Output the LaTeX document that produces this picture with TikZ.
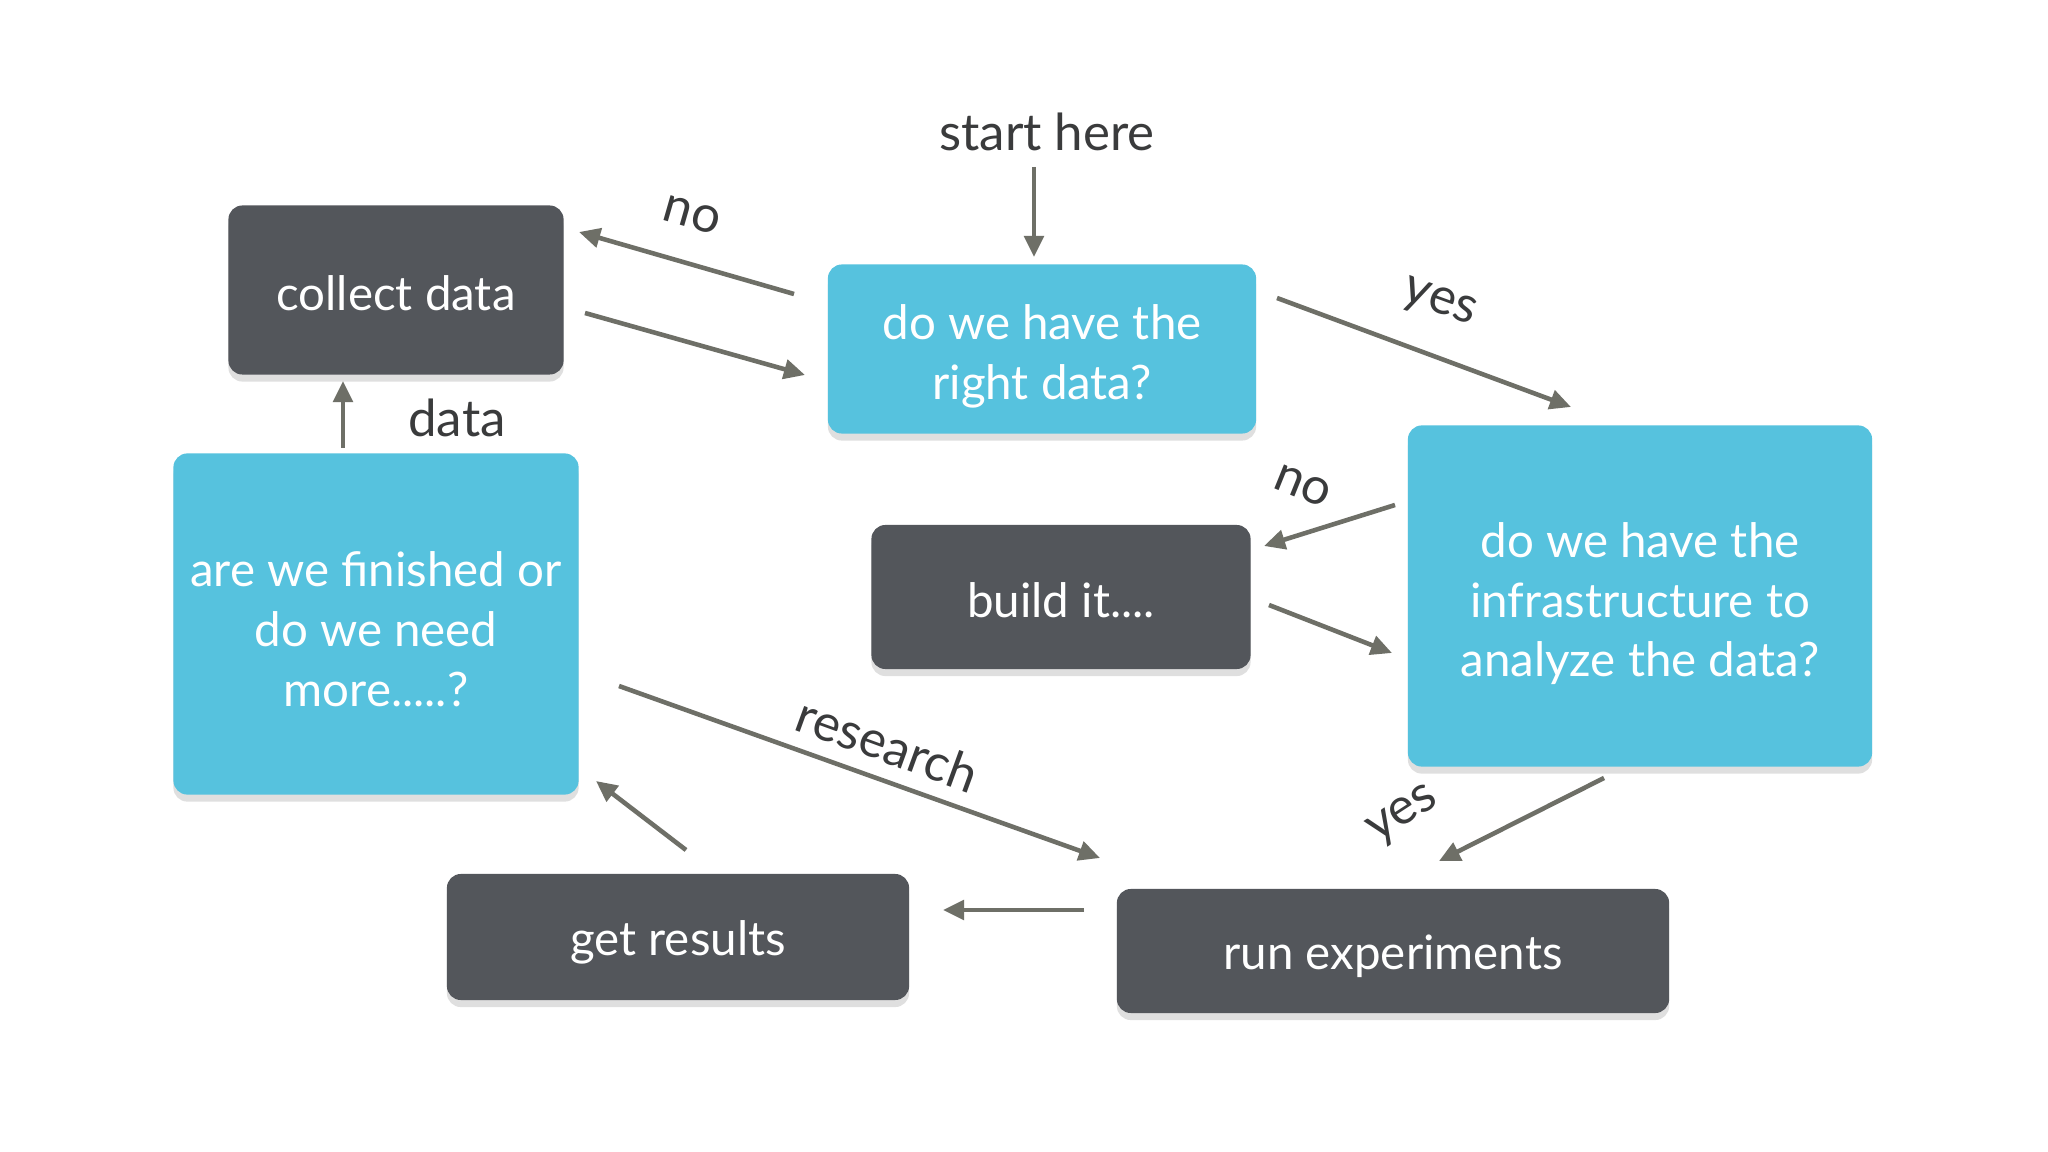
\documentclass[tikz,border=0pt]{standalone}
\usepackage{fontspec}
\setmainfont{Lato}
\usepackage{tikz}
\usetikzlibrary{
  positioning,
  calc,
  arrows.meta,
  shadows
}
\definecolor{boxdark}{HTML}{53565B}
\definecolor{boxblue}{HTML}{56C2DE}
\definecolor{arrowgray}{HTML}{6E6F67}
\definecolor{labelgray}{HTML}{3A3B3C}
\newcommand{\qstrut}{\rule{0pt}{14.3pt}}

\begin{document}
\begin{tikzpicture}[
      x=0.01cm, y=-0.01cm,
      darkbox/.style={rectangle, rounded corners=4pt, fill=boxdark, text=white, align=center,
        font=\fontsize{13.5}{17}\selectfont,
        execute at begin node={\rule{0pt}{13pt}}, execute at end node={\rule[-1.5pt]{0pt}{1.5pt}},
        drop shadow={shadow xshift=0pt, shadow yshift=-2pt, opacity=0.25}},
      bluebox/.style={darkbox, fill=boxblue},
      lbl/.style={text=labelgray, font=\fontsize{14.5}{17}\selectfont},
      arrow/.style={-{Triangle[length=6pt, width=5.5pt]}, draw=arrowgray, fill=arrowgray, line width=1.3pt}
    ]
      \useasboundingbox[fill=white] (0,0) rectangle (2048,1152);

      % Nodes
      \node[darkbox, minimum width=3.35cm, minimum height=1.69cm] (collect) at (396,290) {collect data};
      \node[bluebox, minimum width=4.28cm, minimum height=1.69cm] (rightdata) at (1042,349) {\qstrut do we have the\\right data?};
      \node[bluebox, minimum width=4.64cm, minimum height=3.41cm] (infra) at (1640,596) {\qstrut do we have the\\infrastructure to\\analyze the data?};
      \node[darkbox, minimum width=3.79cm, minimum height=1.44cm] (build) at (1061,597) {build it....};
      \node[darkbox, minimum width=5.52cm, minimum height=1.24cm] (run) at (1393,951) {run experiments};
      \node[darkbox, minimum width=4.62cm, minimum height=1.26cm] (results) at (678,937) {get results};
      \node[bluebox, minimum width=4.05cm, minimum height=3.41cm] (finished) at (376,624) {\qstrut are we finished or\\do we need\\more.....?};

      % Labels
      \node[lbl] (start) at (1047,132) {start here};
      \node[lbl, rotate=-16] (nolbl) at (692,215) {no};
      \node[lbl, rotate=-20] (yeslbl) at (1439,304) {yes};
      \node[lbl] (datalbl) at (457,418) {data};
      \node[lbl, rotate=-22] (nolbltwo) at (1303,486) {no};
      \node[lbl, rotate=33] (yeslbltwo) at (1404,816) {yes};
      \node[lbl, rotate=-20] (reslbl) at (888,744) {research};

      % Arrow ends
      \coordinate (startout) at (1034,167);
      \coordinate (rdin) at (1034,257);
      \coordinate (rdno) at (794,294);
      \coordinate (colin) at (579,232);
      \coordinate (colout) at (585,313);
      \coordinate (rdinl) at (805,375);
      \coordinate (rdyes) at (1277,298);
      \coordinate (infrain) at (1571,407);
      \coordinate (infrano) at (1395,505);
      \coordinate (buildin) at (1264,546);
      \coordinate (buildout) at (1269,605);
      \coordinate (infrainl) at (1392,653);
      \coordinate (infrayes) at (1604,778);
      \coordinate (runin) at (1439,861);
      \coordinate (finres) at (619,686);
      \coordinate (runinl) at (1100,858);
      \coordinate (runout) at (1084,910);
      \coordinate (resin) at (943,910);
      \coordinate (resout) at (686,850);
      \coordinate (finin) at (596,781);
      \coordinate (findata) at (343,448);
      \coordinate (colinb) at (343,381);

      % Arrows
      \draw[arrow] (startout) -- (rdin);
      \draw[arrow] (rdno) -- (colin);
      \draw[arrow] (colout) -- (rdinl);
      \draw[arrow] (rdyes) -- (infrain);
      \draw[arrow] (infrano) -- (buildin);
      \draw[arrow] (buildout) -- (infrainl);
      \draw[arrow] (infrayes) -- (runin);
      \draw[arrow] (finres) -- (runinl);
      \draw[arrow] (runout) -- (resin);
      \draw[arrow] (resout) -- (finin);
      \draw[arrow] (findata) -- (colinb);
    \end{tikzpicture}
\end{document}
